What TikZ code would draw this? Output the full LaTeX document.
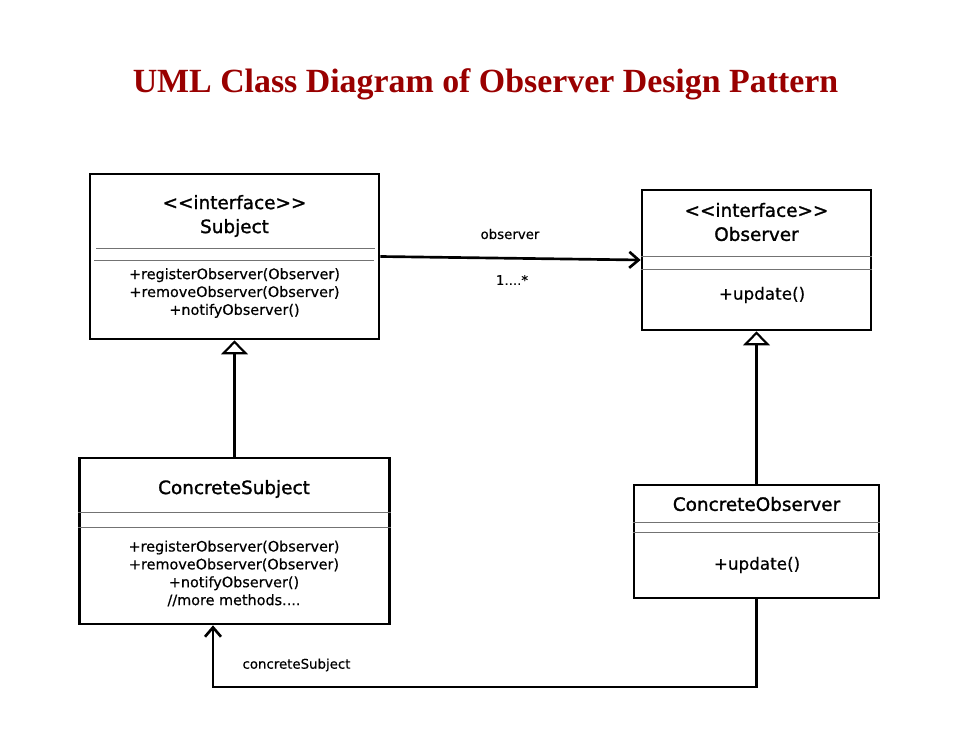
\documentclass[tikz,border=0pt]{standalone}
\usepackage{fontspec}
\setmainfont{DejaVu Sans}
\newfontfamily\titlefont{Liberation Serif}
\newfontfamily\headfont{DejaVu Sans}[FakeBold=1.4]
\newfontfamily\memberfont{DejaVu Sans}[FakeBold=0.5]
\usetikzlibrary{arrows.meta}

\definecolor{titlered}{RGB}{153,0,0}
\newcommand{\pxl}{0.75pt}
\newcommand{\stereo}[1]{<\kern0pt<#1>\kern0pt>}

\tikzset{
	classbox/.style 2 args={draw, line width=2pt, minimum width=#1*\pxl, minimum height=#2*\pxl, inner sep=0pt},
	heading/.style={font=\headfont\fontsize{13.8}{18}\selectfont, align=center, inner sep=0pt},
	member/.style={font=\memberfont\fontsize{10.8}{13.4}\selectfont, align=center, inner sep=0pt},
	lbl/.style={font=\memberfont\fontsize{10}{12}\selectfont, inner sep=0pt},
	sepline/.style={draw=black!55, line width=0.6pt},
	inherit/.style={line width=1.6pt, -{Triangle[open, length=10.5pt, width=20pt, fill=white]}},
	assoc/.style={line width=2pt, -{Straight Barb[length=7pt, width=12pt]}}
}

\begin{document}
\begin{tikzpicture}[x=0.75pt, y=-0.75pt]
	
	\useasboundingbox (0,0) rectangle (972,742);
	
	% Title
	\node[font=\titlefont\bfseries\fontsize{25.4}{30}\selectfont, text=titlered] (title) at (485.5,84) {UML Class Diagram of Observer Design Pattern};
	
	% Subject interface
	\node[classbox={289}{165}] (subject) at (234.5,256.5) {};
	\node[heading] (subject-name) at (234.5,216) {\stereo{interface}\\Subject};
	\draw[sepline] (96,248) -- (375,248);
	\draw[sepline] (94,260) -- (374,260);
	\node[member] (subject-ops) at (234.5,293) {+registerObserver(Observer)\\+removeObserver(Observer)\\+notifyObserver()};
	
	% Observer interface
	\node[classbox={229}{140}] (observer) at (756.5,260) {};
	\node[heading] (observer-name) at (756.5,222) {\stereo{interface}\\Observer};
	\draw[sepline] (observer.west |- 0,256) -- (observer.east |- 0,256);
	\draw[sepline] (observer.west |- 0,269) -- (observer.east |- 0,269);
	\node[member, font=\memberfont\fontsize{12.6}{15}\selectfont] (observer-ops) at (762,295) {+update()};
	
	% ConcreteSubject
	\node[classbox={310}{166}] (csubject) at (234.5,541) {};
	\node[heading] (csubject-name) at (234,489) {ConcreteSubject};
	\draw[sepline] (csubject.west |- 0,512) -- (csubject.east |- 0,512);
	\draw[sepline] (csubject.west |- 0,527) -- (csubject.east |- 0,527);
	\node[member] (csubject-ops) at (234,573.5) {+registerObserver(Observer)\\+removeObserver(Observer)\\+notifyObserver()\\//more methods....};
	
	% ConcreteObserver
	\node[classbox={245}{113}] (cobserver) at (756.5,541.5) {};
	\node[heading] (cobserver-name) at (756.5,504) {ConcreteObserver};
	\draw[sepline] (cobserver.west |- 0,522) -- (cobserver.east |- 0,522);
	\draw[sepline] (cobserver.west |- 0,532) -- (cobserver.east |- 0,532);
	\node[member, font=\memberfont\fontsize{12.6}{15}\selectfont] (cobserver-ops) at (757,565) {+update()};
	
	% Generalizations
	\draw[inherit] (csubject.north) -- (subject.south);
	\draw[inherit] (cobserver.north) -- (observer.south);
	
	% Associations
	\draw[assoc] (subject.east) -- (observer.west);
	\node[lbl] (observer-role) at (510,234) {observer};
	\node[lbl] (multiplicity) at (512,280) {1....*};
	
	\coordinate (bend) at (213,687);
	\draw[assoc] (cobserver.south) |- (bend) -- (bend |- csubject.south);
	\node[lbl] (subject-role) at (296.5,665) {concreteSubject};
	
\end{tikzpicture}
\end{document}
